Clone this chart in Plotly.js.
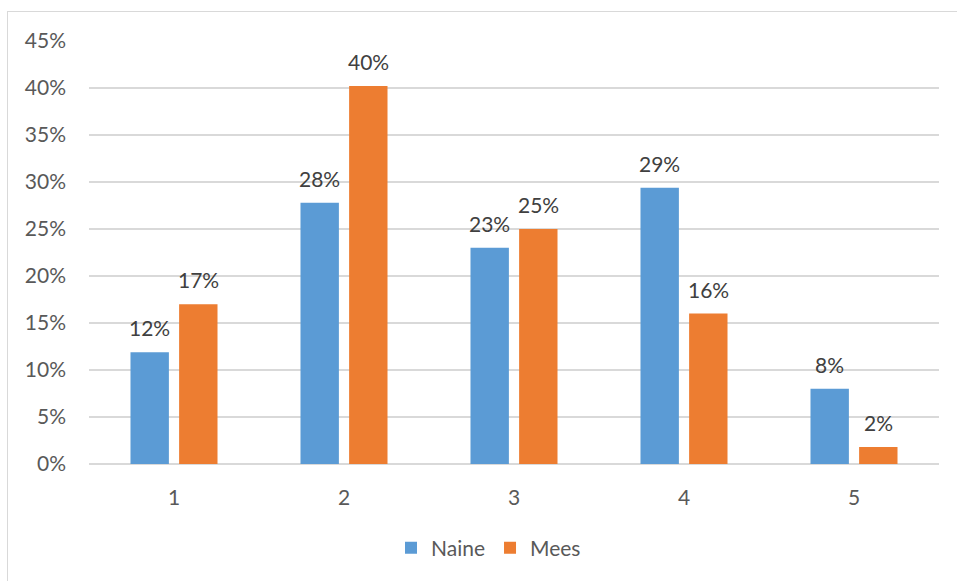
<!DOCTYPE html>
<html>
<head>
<meta charset="utf-8">
<script src="https://cdn.plot.ly/plotly-3.0.1.min.js"></script>
<style>
  body { margin: 0; background: #fff; }
  #wrap { position: relative; width: 957px; height: 581px; }
  #chart { position: absolute; left: 0; top: 0; width: 957px; height: 581px; }
  #frame { position: absolute; left: 7px; top: 11px; width: 950px; height: 570px;
           border-left: 1.5px solid #d9d9d9; border-top: 1.5px solid #d9d9d9; pointer-events: none; }
</style>
</head>
<body>
<div id="wrap"><div id="chart"></div><div id="frame"></div></div>
<script>
const categories = ["1", "2", "3", "4", "5"];
const naine = [0.119, 0.278, 0.230, 0.294, 0.080];
const mees = [0.170, 0.402, 0.250, 0.160, 0.018];
const seriesNames = ["Naine", "Mees"];
const yTickVals = [0, 0.05, 0.10, 0.15, 0.20, 0.25, 0.30, 0.35, 0.40, 0.45];
const yTickText = ["0%", "5%", "10%", "15%", "20%", "25%", "30%", "35%", "40%", "45%"];

const font = "Lato";
const FS = 21;
const mk = (name, y, color) => ({
  type: "bar", name: name, x: categories, y: y,
  marker: { color: color },
  hoverinfo: "skip"
});
const data = [mk(seriesNames[0], naine, "#5B9BD5"), mk(seriesNames[1], mees, "#ED7D31")];

const annotations = [];
[[naine, -24.3], [mees, 24.3]].forEach(([vals, shift]) => {
  vals.forEach((v, i) => annotations.push({
    x: i, y: v, xref: "x", yref: "y",
    text: Math.round(v * 100) + "%", showarrow: false,
    xanchor: "center", yanchor: "bottom", xshift: shift, yshift: 10,
    font: { family: font, size: FS, color: "#404040" }
  }));
});

const tickFont = { family: font, size: FS, color: "#595959" };
const layout = {
  width: 957, height: 581,
  margin: { l: 89, r: 18, t: 41, b: 117 },
  paper_bgcolor: "rgba(0,0,0,0)", plot_bgcolor: "#fff",
  barmode: "group", bargap: 0.428, bargroupgap: 0.21,
  font: { family: font, color: "#595959", size: FS },
  xaxis: { type: "category", range: [-0.5, 4.5], showgrid: false, zeroline: false, showline: false,
           ticks: "", ticklabelstandoff: 19, tickfont: tickFont },
  yaxis: { range: [0, 0.45], tickvals: yTickVals, ticktext: yTickText,
           showgrid: true, gridcolor: "#d9d9d9", gridwidth: 1.3,
           zeroline: true, zerolinecolor: "#d9d9d9", zerolinewidth: 1.3,
           showline: false, ticks: "", ticklabelstandoff: 22,
           tickfont: tickFont },
  annotations: annotations,
  showlegend: true,
  legend: { orientation: "h", x: 0.47, xanchor: "center", y: -0.199, yanchor: "middle",
            font: { family: font, size: FS, color: "#595959" }, itemwidth: 30, traceorder: "normal" }
};
Plotly.newPlot("chart", data, layout, { displayModeBar: false, staticPlot: true });
</script>
</body>
</html>
